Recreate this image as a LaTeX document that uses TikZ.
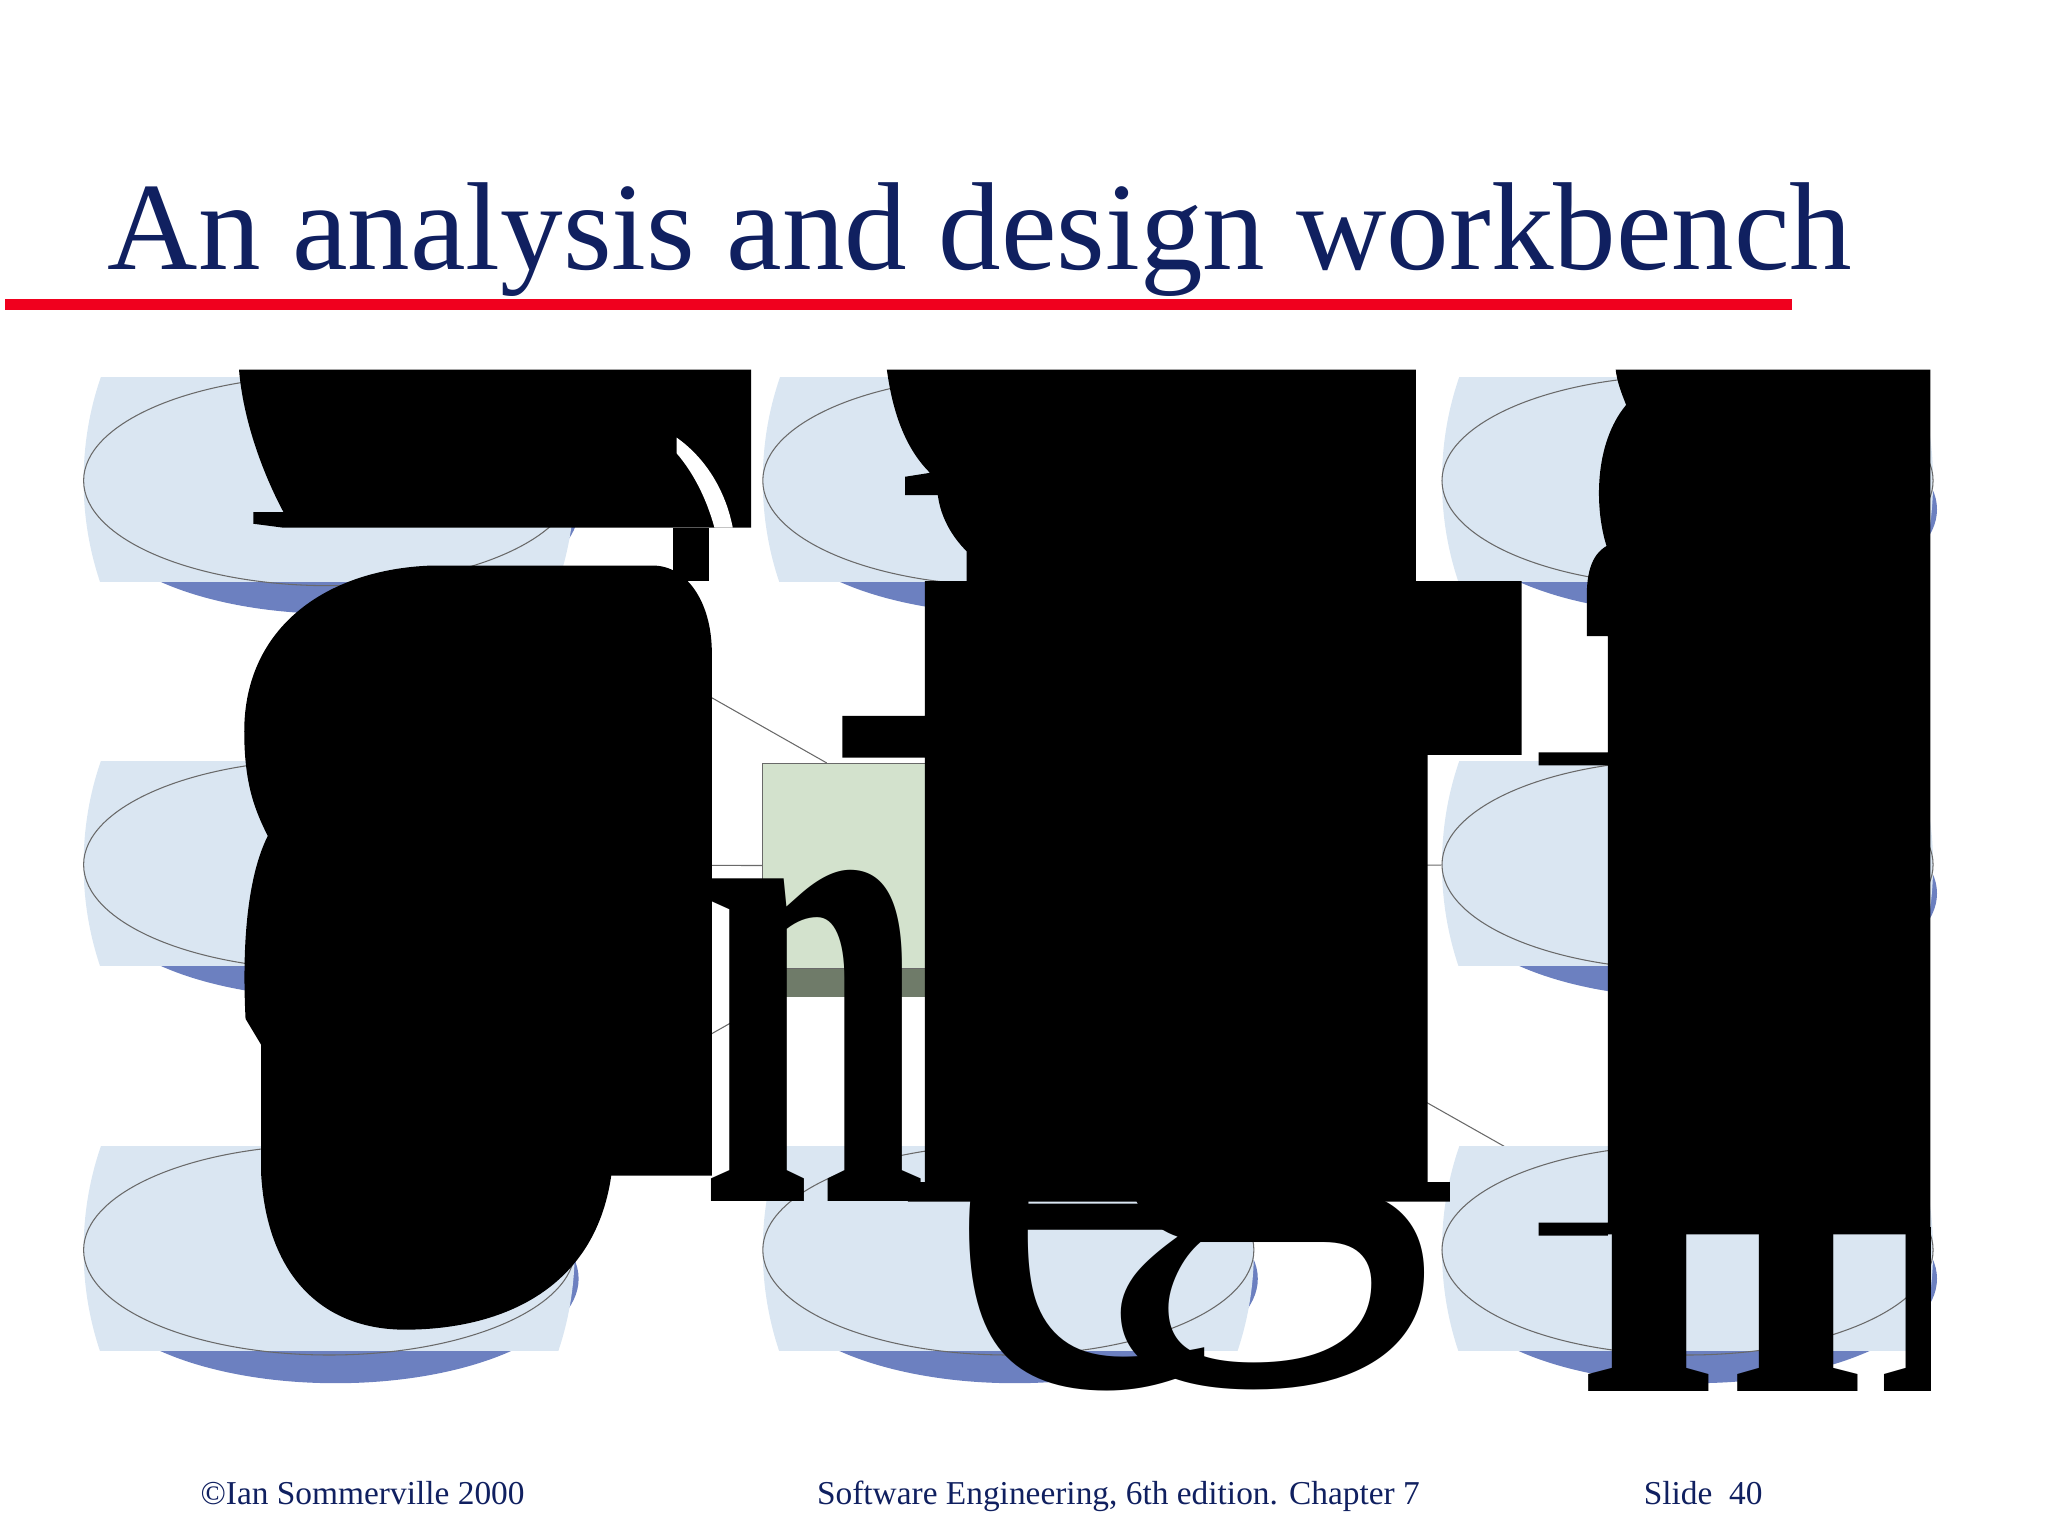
\documentclass[tikz,border=0pt]{standalone}
\usepackage{fontspec}
\setmainfont{Liberation Serif}
\usepackage{xcolor}
\usetikzlibrary{shapes.geometric,backgrounds}
\definecolor{slideNavy}{RGB}{16,32,96}
\definecolor{slideRed}{RGB}{240,0,30}
\definecolor{toolFill}{RGB}{218,230,242}
\definecolor{toolShadow}{RGB}{108,128,192}
\definecolor{repoFill}{RGB}{211,226,205}
\definecolor{repoShadow}{RGB}{111,123,105}
\definecolor{edgeGray}{RGB}{105,105,105}
\newcommand{\glyphsize}[1]{\fontsize{#1}{#1}\selectfont}

\begin{document}
\begin{tikzpicture}[x=0.1306mm, y=-0.1306mm]
    \tikzstyle{tool} = [ellipse, draw=edgeGray, line width=0.3pt, minimum width=49.1mm, minimum height=21mm, inner sep=0pt]
    \tikzstyle{repo} = [rectangle, draw=edgeGray, line width=0.3pt, fill=repoFill, minimum width=49.1mm, minimum height=20.5mm, inner sep=0pt]
    \tikzstyle{link} = [edgeGray, line width=0.3pt]
    \tikzstyle{blob} = [anchor=base west, inner sep=0pt, text=black]
    \tikzstyle{footer} = [anchor=base west, inner sep=0pt, text=slideNavy, font=\glyphsize{9.5}]
    \useasboundingbox (0,0) rectangle (1568,1176);

    % Title
    \node[anchor=base west, inner sep=0pt, text=slideNavy, font=\glyphsize{35.6}] (title) at (82,206) {An analysis and design workbench};
    \draw[slideRed, line width=1.05mm] (4,233) -- (1372,233);

    % Tools
    \foreach \name/\cx/\cy in {nw/252/368, n/772/368, ne/1292/368, w/252/662, e/1292/662, sw/252/957, s/772/957, se/1292/957} {
        \fill[toolShadow] (\cx+5,\cy+22) ellipse [x radius=186, y radius=80];
        \begin{scope}
            \clip (\cx-188,\cy-79) rectangle (\cx+188,\cy+77);
            \fill[toolFill] (\cx,\cy) ellipse [x radius=188, y radius=215];
        \end{scope}
        \node[tool] (\name) at (\cx,\cy) {};
    }

    % Repository
    \fill[repoShadow] (588,606) rectangle (964,763);
    \node[repo] (repo) at (772,663) {};

    % Links
    \begin{scope}[on background layer]
        \draw[link] (repo) -- (nw);
        \draw[link] (repo) -- (n);
        \draw[link] (repo) -- (ne);
        \draw[link] (repo) -- (w);
        \draw[link] (repo) -- (e);
        \draw[link] (repo) -- (sw);
        \draw[link] (repo) -- (s);
        \draw[link] (repo) -- (se);
    \end{scope}

    % Oversized labels, left column
    \fill (183,283) -- (575,283) -- (575,404) -- (217,404) -- (194,401) -- (194,392) -- (217,392)
        .. controls (200,360) and (186,320) .. (183,283) -- cycle;
    \fill[white] (518,335) .. controls (542,352) and (556,378) .. (561,404) -- (547,404)
        .. controls (541,382) and (531,362) .. (518,347) -- cycle;
    \fill (515,404) rectangle (543,445);
    \fill (330,433) .. controls (250,436) and (187,480) .. (187,560) .. controls (187,600) and (195,620) .. (205,640)
        .. controls (190,670) and (185,720) .. (188,780) -- (200,800) -- (200,900)
        .. controls (205,980) and (250,1018) .. (310,1018) .. controls (380,1018) and (455,990) .. (468,900)
        -- (545,900) -- (545,500) .. controls (545,460) and (525,433) .. (500,433) -- cycle;
    \node[blob, font=\glyphsize{200}\bfseries] (lh) at (536,920) {\scalebox{0.58}[1]{n}};

    % Oversized labels, middle column
    \fill (679,283) -- (1084,283) -- (1084,445) -- (1165,445) -- (1165,578) -- (1093,578) -- (1093,905)
        -- (1110,905) -- (1110,920) -- (695,920) -- (695,905) -- (708,905) -- (708,580) -- (645,580)
        -- (645,548) -- (708,548) -- (708,445) -- (740,445) -- (740,422)
        .. controls (728,410) and (720,395) .. (718,379) -- (693,379) -- (693,365) -- (712,362)
        .. controls (695,345) and (684,320) .. (679,283) -- cycle;
    \node[blob, font=\glyphsize{190}] (me) at (722,1060) {e};
    \node[blob, font=\glyphsize{197}] (mg) at (835,950) {g};

    % Oversized labels, right column
    \fill (1237,283) -- (1478,283) -- (1478,945) -- (1231,945) -- (1231,946) -- (1178,946) -- (1178,936)
        -- (1231,936) -- (1231,586) -- (1178,586) -- (1178,576) -- (1231,576) -- (1231,487) -- (1215,487)
        -- (1215,463) .. controls (1214,440) and (1218,425) .. (1230,418)
        .. controls (1221,390) and (1220,340) .. (1245,310) .. controls (1241,300) and (1238,292) .. (1237,283) -- cycle;
    \begin{scope}
        \clip (1150,940) rectangle (1478,1100);
        \node[blob, font=\glyphsize{150}\bfseries] (rm) at (1205,1065) {m};
    \end{scope}

    % Footer
    \node[footer] (copy) at (153,1152) {\textcopyright Ian Sommerville 2000};
    \node[footer] (book) at (625,1152) {Software Engineering, 6th edition. Chapter 7};
    \node[footer] (slide) at (1258,1152) {Slide~~40};
\end{tikzpicture}
\end{document}
